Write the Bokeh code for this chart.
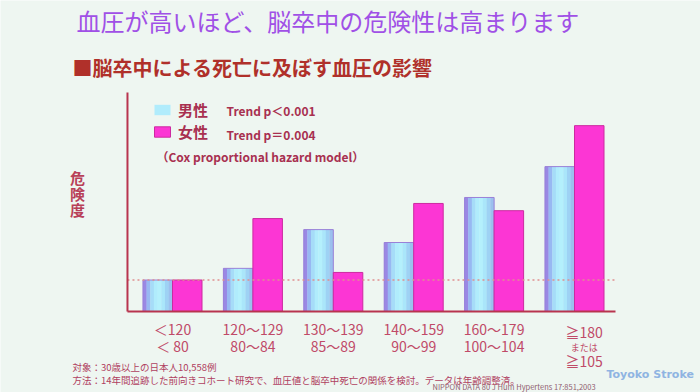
from bokeh.plotting import figure
from bokeh.models import Label, Range1d, Legend, LegendItem
from bokeh.embed import file_html
from bokeh.resources import INLINE

# ---------------- data ----------------
tick_line1 = ["＜120", "120～129", "130～139", "140～159", "160～179", "≧180"]
tick_line2 = ["＜ 80", "80～84", "85～89", "90～99", "100～104", "または"]
tick_line3 = ["", "", "", "", "", "≧105"]
male_risk = [1.0, 1.37, 2.6, 2.19, 3.62, 4.6]
female_risk = [1.0, 2.95, 1.24, 3.43, 3.2, 5.9]
reference_level = 1.0
series_names = ["男性", "女性"]
trend_texts = ["Trend p＜0.001", "Trend p＝0.004"]

# ---------------- layout ----------------
JP = "Noto Sans CJK JP"
BG = "#eef6f1"
W, H = 700, 392
PX_PER_GROUP = 80.4      # horizontal pixels per category
PX_PER_UNIT = 31.5       # vertical pixels per risk unit
G0_X, BASE_Y = 172, 311  # canvas position of first group centre and of the baseline
AX_X0, AX_X1, AX_Y1 = -0.56, 5.51, 6.95  # axis extents in data units

x_lo = (0 - G0_X) / PX_PER_GROUP
x_hi = (W - G0_X) / PX_PER_GROUP
y_hi = BASE_Y / PX_PER_UNIT
y_lo = (BASE_Y - H) / PX_PER_UNIT

p = figure(width=W, height=H, output_backend="svg", toolbar_location=None,
           x_range=Range1d(x_lo, x_hi), y_range=Range1d(y_lo, y_hi),
           min_border=0, background_fill_color=BG, border_fill_color=BG)
p.outline_line_color = None
p.xaxis.visible = False
p.yaxis.visible = False
p.xgrid.grid_line_color = None
p.ygrid.grid_line_color = None

bw = 0.367
grad = ["#9a88e4", "#98b8f2", "#a6dcf8", "#b0ecfc", "#b4f0fc", "#aae6fa", "#9ed2f4", "#9cc0ee"]
n = len(grad)
xs, tops, cols = [], [], []
for i, v in enumerate(male_risk):
    for j, c in enumerate(grad):
        xs.append(i - bw + (j + 0.5) * bw / n)
        tops.append(v)
        cols.append(c)
r_male = p.vbar(x=xs, top=tops, width=bw / n * 1.08, fill_color=cols, line_color=None)
p.vbar(x=[i - bw / 2 for i in range(len(male_risk))], top=male_risk, width=bw,
       fill_color=None, line_color="#9a80d8", line_width=1)
r_female = p.vbar(x=[i + bw / 2 for i in range(len(female_risk))], top=female_risk, width=bw,
                  fill_color="#fc36d4", line_color="#cc2aa0", line_width=1)

# reference (dotted) line and axes
p.segment(x0=[AX_X0], y0=[reference_level], x1=[AX_X1], y1=[reference_level],
          line_color="#e09090", line_dash="2 3", line_width=1.5)
p.segment(x0=[AX_X0, AX_X0], y0=[0, 0], x1=[AX_X1, AX_X0], y1=[0, AX_Y1],
          line_color="#b8344f", line_width=2)

# legends (one per series, so each can be placed exactly)
for name, rend, idx, center_y in [(series_names[0], r_male, 3, 109), (series_names[1], r_female, 0, 131)]:
    lg = Legend(items=[LegendItem(label=name, renderers=[rend], index=idx)],
                location=(152, H - (center_y + 10.5)), orientation="vertical",
                background_fill_alpha=0, border_line_color=None,
                label_text_font=JP, label_text_font_size="15px", label_text_color="#a83050",
                label_text_font_style="bold", glyph_width=20, glyph_height=13,
                label_standoff=6, spacing=0, padding=0, margin=0, label_height=13)
    p.add_layout(lg)


def lab(text, X, Y, size, color, bold=False, align="left", font=JP, x_data=None):
    kw = dict(x_units="screen", x=X) if x_data is None else dict(x_units="data", x=x_data)
    p.add_layout(Label(y=H - Y, y_units="screen", text=text, text_font=font,
                       text_font_size=f"{size}px", text_color=color,
                       text_font_style="bold" if bold else "normal",
                       text_align=align, text_baseline="middle", **kw))


lab("血圧が高いほど、脳卒中の危険性は高まります", 76, 20, 24, "#a050e6")
lab("■脳卒中による死亡に及ぼす血圧の影響", 72, 67, 20, "#b0302a", bold=True)
lab(trend_texts[0], 226, 110, 12, "#a83050", bold=True)
lab(trend_texts[1], 226, 134, 12, "#a83050", bold=True)
lab("（Cox proportional hazard model）", 156, 156, 12, "#a83050", bold=True)
for k, ch in enumerate("危険度"):
    lab(ch, 77, 177 + 16 * k, 15, "#b84058", bold=True, align="center")

for i in range(len(tick_line1)):
    off = 0.12 if tick_line3[i] else 0.0
    if tick_line3[i]:
        lab(tick_line1[i], 0, 331, 14, "#c04a68", align="center", x_data=i + off)
        lab(tick_line2[i], 0, 347, 9, "#c04a68", align="center", x_data=i + off)
        lab(tick_line3[i], 0, 360, 14, "#c04a68", align="center", x_data=i + off)
    else:
        lab(tick_line1[i], 0, 328, 14, "#c04a68", align="center", x_data=i)
        lab(tick_line2[i], 0, 345, 14, "#c04a68", align="center", x_data=i)

lab("対象：30歳以上の日本人10,558例", 72, 366, 9.5, "#b04060")
lab("方法：14年間追跡した前向きコホート研究で、血圧値と脳卒中死亡の関係を検討。データは年齢調整済。", 72, 379, 9.5, "#b04060")
lab("NIPPON DATA 80 J Hum Hypertens 17:851,2003", 432, 386, 7.5, "#906070")
lab("Toyoko Stroke", 606, 374, 11, "#8fb4e2", bold=True, font="DejaVu Sans")

open("out.html", "w").write(file_html(p, INLINE))
